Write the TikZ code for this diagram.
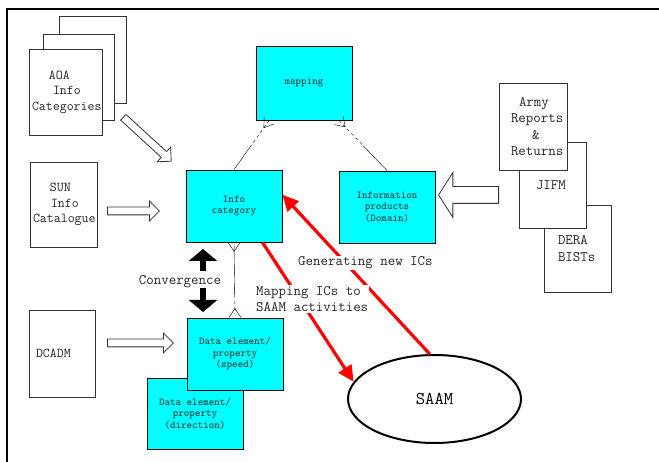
\documentclass[tikz,border=0pt]{standalone}
\usetikzlibrary{arrows.meta,shapes.geometric,shapes.arrows,calc}

\definecolor{entcyan}{RGB}{0,255,255}

% crow's foot at the first end of a relationship line
\newcommand{\crowfoot}[2]{%
    \draw ($(#1)!9pt!(#2)$) -- ($(#1)!6pt!90:(#2)$)
          ($(#1)!9pt!(#2)$) -- ($(#1)!6pt!-90:(#2)$);}

\begin{document}
\begin{tikzpicture}[x=1pt, y=-1pt,
        doc/.style={draw=black!80, fill=white, line width=0.9pt, inner ysep=0pt, align=left,
            text=black!85, font=\fontsize{13.5}{15.5}\selectfont\ttfamily},
        docbig/.style={doc, font=\fontsize{14.5}{16.3}\selectfont\ttfamily},
        ent/.style={draw=black, fill=entcyan, line width=0.9pt, minimum width=96pt, align=center,
            text=black!85, font=\fontsize{10.5}{11.5}\selectfont\ttfamily},
        flow/.style={single arrow, draw=black!80, fill=white, line width=0.8pt, inner sep=3.5pt,
            single arrow head extend=6pt},
        optional/.style={dash pattern=on 3pt off 3pt},
        saamline/.style={red, line width=3.2pt, -{Triangle[length=16pt, width=15pt]}},
        conv/.style={line width=6pt, -{Triangle[length=12pt, width=28pt]}},
        note/.style={fill=white, inner sep=1pt, align=left, text=black!85,
            font=\fontsize{14.5}{16}\selectfont\ttfamily}]
    \useasboundingbox (0, 0) rectangle (659, 462);

    % frame
    \draw[line width=2.5pt] (7, 462) -- (7, 9) -- (659, 9);

    % source documents
    \node[doc, minimum width=67pt, minimum height=87pt] (aoa3) at (92.5, 59.5) {};
    \node[doc, minimum width=71pt, minimum height=86pt] (aoa2) at (78.5, 77) {};
    \node[doc, minimum width=73pt, minimum height=86pt, text width=67pt, inner xsep=3pt] (aoa) at (65.5, 92)
        {\hspace*{17pt}AOA\\\hspace*{21pt}Info\\Categories};
    \node[doc, minimum width=67pt, minimum height=85pt, text width=61pt, inner xsep=3pt] (sun) at (63.5, 204.5)
        {\hspace*{17pt}SUN\\\hspace*{18pt}Info\\Catalogue};
    \node[doc, minimum width=66pt, minimum height=87pt, text width=52pt, inner xsep=7pt] (dcadm) at (62, 353.5)
        {DCADM};

    \node[docbig, minimum width=67pt, minimum height=87pt, text width=39pt, inner xsep=14pt] (dera) at (577.5, 248.5)
        {DERA\\BISTs};
    \node[docbig, minimum width=67pt, minimum height=86pt, text width=33pt, inner xsep=17pt] (jifm) at (552.5, 185)
        {JIFM};
    \node[docbig, minimum width=68pt, minimum height=87pt, text width=44pt, inner xsep=12pt] (army) at (533, 126.5)
        {\hspace*{8pt}Army\\Reports\\\hspace*{21pt}\&\\Returns};

    % entities
    \node[ent, minimum height=74pt] (mapping) at (304, 83) {mapping};
    \node[ent, minimum height=72pt] (infocat) at (234, 206) {Info\\category};
    \node[ent, minimum height=72pt] (infoprod) at (387, 207) {Information\\products\\(Domain)};
    \node[ent, minimum height=71pt] (datadir) at (195, 413.5) {Data element/\\property\\(direction)};
    \node[ent, minimum height=72pt] (dataspeed) at (235, 354) {Data element/\\property\\(speed)};

    % relationships
    \coordinate (m1) at ($(mapping.227)!0.5!(infocat.north)$);
    \draw[optional] (mapping.227) -- (m1);
    \draw (m1) -- (infocat.north);
    \crowfoot{mapping.227}{infocat.north}

    \coordinate (m2) at ($(mapping.313)!0.5!(infoprod.north)$);
    \draw[optional] (mapping.313) -- (m2);
    \draw (m2) -- (infoprod.north);
    \crowfoot{mapping.313}{infoprod.north}

    \coordinate (v1) at ($(infocat.south)!0.7!(dataspeed.north)$);
    \draw (infocat.south) -- (v1);
    \draw[optional] (v1) -- (dataspeed.north);
    \crowfoot{infocat.south}{dataspeed.north}
    \crowfoot{dataspeed.north}{infocat.south}

    % inputs
    \node[flow, rotate=-42.5, minimum height=65pt, anchor=tail] (aoaflow) at (123, 117) {};
    \node[flow, minimum height=52pt, anchor=tail] (sunflow) at (107, 211) {};
    \node[flow, minimum height=66pt, anchor=tail] (dcadmflow) at (107, 343) {};
    \node[flow, rotate=180, minimum height=60pt, inner sep=8pt, single arrow head extend=14pt,
        single arrow tip angle=115, anchor=tail] (prodflow) at (499, 195) {};

    % convergence
    \node[note, fill=none] (conv) at (180, 282) {Convergence};
    \coordinate (upfoot) at (203, 271);
    \coordinate (uphead) at (203, 249);
    \coordinate (downfoot) at (203, 288);
    \coordinate (downhead) at (203, 312);
    \draw[conv] (upfoot) -- (uphead);
    \draw[conv] (downfoot) -- (downhead);

    % SAAM
    \node[ellipse, draw, line width=2pt, minimum width=173pt, minimum height=88pt, inner sep=0pt,
        font=\fontsize{18}{20}\selectfont\ttfamily] (saam) at (434.5, 399) {SAAM};
    \draw[saamline] (infocat.308) -- (saam.168);
    \draw[saamline] (saam.96) -- (infocat.13);

    \node[note, anchor=west] (gen) at (297, 263) {Generating new ICs};
    \node[note, anchor=west] (map) at (255, 299) {Mapping ICs to\\SAAM activities};
\end{tikzpicture}
\end{document}
